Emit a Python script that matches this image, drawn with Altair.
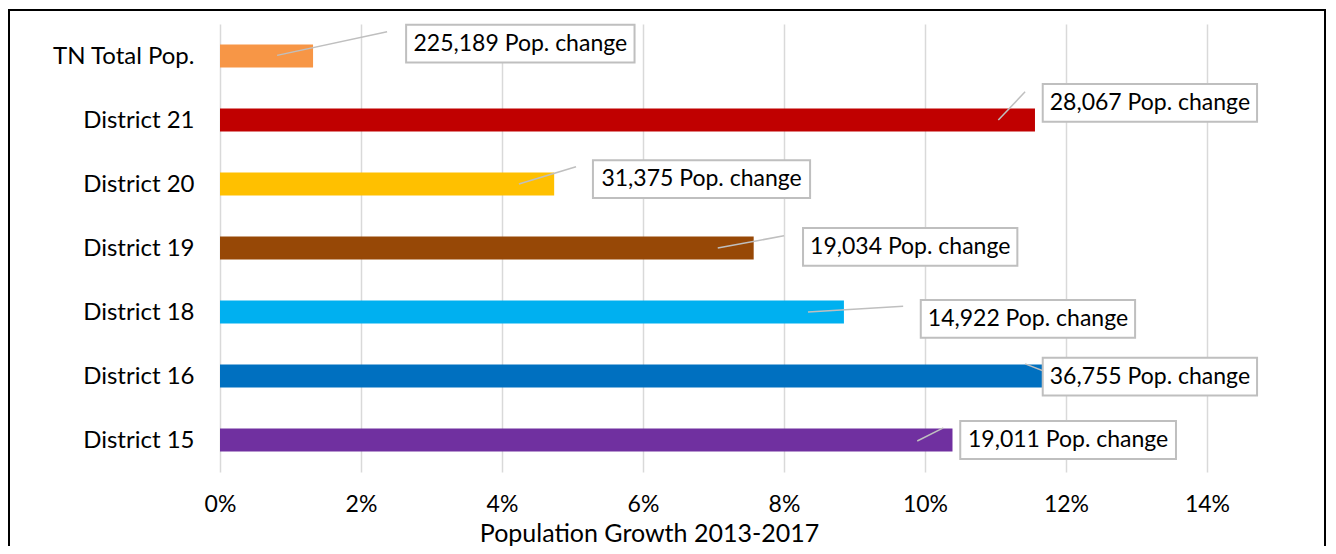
import json
import altair as alt
import pandas as pd

# ---- data ----
categories = ["TN Total Pop.", "District 21", "District 20", "District 19",
              "District 18", "District 16", "District 15"]
growth_pct = [1.32, 11.56, 4.74, 7.57, 8.85, 11.72, 10.39]
pop_change = ["225,189", "28,067", "31,375", "19,034", "14,922", "36,755", "19,011"]
colors = ["#F79646", "#C00000", "#FFC000", "#974806", "#00B0F0", "#0070C0", "#7030A0"]
x_ticks = [0, 2, 4, 6, 8, 10, 12, 14]

# data-label callouts (x in % units, y in rows relative to the row centre)
label_x = [4.26, 13.19, 6.83, 9.79, 11.46, 13.19, 12.03]
label_dy = [-0.195, -0.266, -0.078, -0.016, 0.109, 0.008, 0.0]
label_halfw = [1.62, 1.52, 1.54, 1.52, 1.52, 1.52, 1.53]
leader_x1 = [0.81, 11.04, 4.24, 7.06, 8.34, 11.42, 9.89]
leader_y1 = [-0.01, 0.0, 0.0, 0.0, 0.0, -0.19, 0.016]
leader_x2 = [2.37, 11.42, 5.05, 8.0, 9.69, 11.82, 10.26]
leader_y2 = [-0.38, -0.44, -0.27, -0.19, -0.09, -0.02, -0.19]

FONT = "Lato"
W, H = 987, 448

df = pd.DataFrame({
    "cat": categories,
    "idx": list(range(len(categories))),
    "growth": growth_pct,
    "lab": [p + " Pop. change" for p in pop_change],
    "lx": label_x,
    "ldy": label_dy,
    "lhw": label_halfw,
    "ax1": leader_x1, "ay1": leader_y1,
    "ax2": leader_x2, "ay2": leader_y2,
})
df["zero"] = 0.0
df["b_y1"] = df["idx"] - 0.18
df["b_y2"] = df["idx"] + 0.18
df["box_x1"] = df["lx"] - df["lhw"]
df["box_x2"] = df["lx"] + df["lhw"]
df["box_yc"] = df["idx"] + df["ldy"]
df["box_y1"] = df["box_yc"] - 0.295
df["box_y2"] = df["box_yc"] + 0.295
df["l_y1"] = df["idx"] + df["ay1"]
df["l_y2"] = df["idx"] + df["ay2"]

xscale = alt.Scale(domain=[0, 14], nice=False, zero=True)
yscale = alt.Scale(domain=[-0.5, len(categories) - 0.5], reverse=True, nice=False, zero=False)

label_expr = json.dumps(categories) + "[datum.value]"

xaxis = alt.Axis(values=x_ticks, labelExpr="datum.value + '%'",
                 title="Population Growth 2013-2017",
                 grid=True, gridColor="#d9d9d9", gridWidth=1.5,
                 domain=False, ticks=False, labelFlush=False,
                 labelFont=FONT, labelFontSize=23, labelColor="#000000",
                 labelPadding=21, titleFont=FONT, titleFontSize=25,
                 titleFontWeight="normal", titleColor="#000000",
                 titleX=429, titleY=69, titleAlign="center",
                 titleBaseline="alphabetic")
yaxis = alt.Axis(values=list(range(len(categories))), labelExpr=label_expr,
                 title="", grid=False, domain=False, ticks=False,
                 labelFont=FONT, labelFontSize=24, labelColor="#000000",
                 labelPadding=26)

base = alt.Chart(df)

bars = base.mark_rect().encode(
    x=alt.X("zero:Q", scale=xscale, axis=xaxis),
    x2="growth:Q",
    y=alt.Y("b_y1:Q", scale=yscale, axis=yaxis),
    y2="b_y2:Q",
    color=alt.Color("cat:N", scale=alt.Scale(domain=categories, range=colors), legend=None),
)

leaders = base.mark_rule(color="#bfbfbf", strokeWidth=1.5).encode(
    x=alt.X("ax1:Q", scale=xscale),
    x2="ax2:Q",
    y=alt.Y("l_y1:Q", scale=yscale),
    y2="l_y2:Q",
)

boxes = base.mark_rect(fill="white", stroke="#bfbfbf", strokeWidth=2).encode(
    x=alt.X("box_x1:Q", scale=xscale),
    x2="box_x2:Q",
    y=alt.Y("box_y1:Q", scale=yscale),
    y2="box_y2:Q",
)

texts = base.mark_text(font=FONT, fontSize=23, color="#000000",
                       align="center", baseline="middle").encode(
    x=alt.X("lx:Q", scale=xscale),
    y=alt.Y("box_yc:Q", scale=yscale),
    text="lab:N",
)

frame = alt.Chart(pd.DataFrame({"k": [0]})).mark_rect(
    fillOpacity=0, stroke="#000000", strokeWidth=2
).encode(
    x=alt.value(-211), x2=alt.value(1105),
    y=alt.value(-14), y2=alt.value(540),
)

chart = alt.layer(bars, leaders, boxes, texts, frame).properties(
    width=W, height=H,
    autosize=alt.AutoSizeParams(type="none"),
    padding={"left": 212, "top": 16, "right": 119, "bottom": 74},
    background="white",
).configure_view(stroke=None)

chart.save("out.html", embed_options={"renderer": "svg", "actions": False})
